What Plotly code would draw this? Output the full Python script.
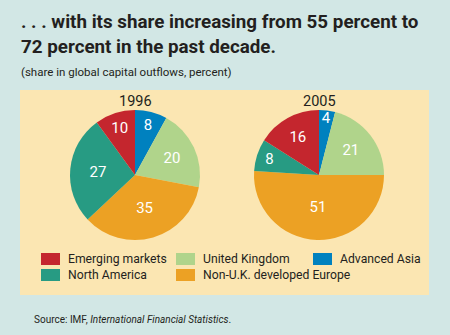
import plotly.graph_objects as go

W, H = 450, 335

categories = ["Advanced Asia", "United Kingdom", "Non-U.K. developed Europe", "North America", "Emerging markets"]
colors = ["#0081bf", "#b0d48b", "#eca124", "#279b83", "#c4262e"]
values_1996 = [8, 20, 35, 27, 10]
values_2005 = [4, 21, 51, 8, 16]
years = ["1996", "2005"]

legend_order = ["Emerging markets", "United Kingdom", "Advanced Asia", "North America", "Non-U.K. developed Europe"]

FONT = "Roboto, Liberation Sans, sans-serif"
INK = "#231f20"

def px(x):
    return x / W

def py(y):
    return 1 - y / H

fig = go.Figure()
anns = []

pie_centers = [(135, 175), (319, 175)]
R = 65
for (cx, cy), vals, yr in zip(pie_centers, [values_1996, values_2005], years):
    fig.add_trace(go.Pie(
        values=vals, labels=categories, text=[str(v) for v in vals],
        textinfo="text", textposition="inside", insidetextorientation="horizontal",
        sort=False, direction="clockwise", rotation=0,
        marker=dict(colors=colors, line=dict(width=0)),
        textfont=dict(family=FONT, size=15, color="white"),
        domain=dict(x=[px(cx - R), px(cx + R)], y=[py(cy + R), py(cy - R)]),
        showlegend=False, hoverinfo="label+value",
    ))
    anns.append(dict(x=px(cx), y=py(101), xref="paper", yref="paper", text=yr,
                     showarrow=False, xanchor="center", yanchor="middle",
                     font=dict(family=FONT, size=14.5, color=INK)))

shapes = [dict(type="rect", xref="paper", yref="paper", x0=px(20), x1=px(429), y0=py(295), y1=py(90),
               fillcolor="#fbe6b2", line=dict(width=0), layer="below")]

col_x = [41, 176, 313]
row_y = [259, 275]
cmap = dict(zip(categories, colors))
for i, name in enumerate(legend_order):
    r, c = divmod(i, 3)
    x0, yc = col_x[c], row_y[r]
    shapes.append(dict(type="rect", xref="paper", yref="paper", x0=px(x0), x1=px(x0 + 19),
                       y0=py(yc + 6), y1=py(yc - 6), fillcolor=cmap[name], line=dict(width=0)))
    anns.append(dict(x=px(x0 + 25), y=py(yc), xref="paper", yref="paper", text=name, showarrow=False,
                     xanchor="left", yanchor="middle", font=dict(family=FONT, size=12.2, color=INK)))

anns.append(dict(x=px(19), y=py(22), xref="paper", yref="paper",
                 text="<b>. . . with its share increasing from 55 percent to</b>", showarrow=False,
                 xanchor="left", yanchor="middle", font=dict(family=FONT, size=18.8, color=INK)))
anns.append(dict(x=px(19), y=py(47), xref="paper", yref="paper",
                 text="<b>72 percent in the past decade.</b>", showarrow=False,
                 xanchor="left", yanchor="middle", font=dict(family=FONT, size=18.8, color=INK)))
anns.append(dict(x=px(19), y=py(72), xref="paper", yref="paper",
                 text="(share in global capital outflows, percent)", showarrow=False,
                 xanchor="left", yanchor="middle", font=dict(family=FONT, size=11.5, color=INK)))
anns.append(dict(x=px(32), y=py(319), xref="paper", yref="paper",
                 text="Source: IMF, <i>International Financial Statistics</i>.", showarrow=False,
                 xanchor="left", yanchor="middle", font=dict(family=FONT, size=10, color=INK)))

fig.update_layout(width=W, height=H, margin=dict(l=0, r=0, t=0, b=0),
                  paper_bgcolor="#d2e7e5", plot_bgcolor="#d2e7e5",
                  shapes=shapes, annotations=anns,
                  uniformtext=dict(mode="show", minsize=15))

fig.write_html("out.html", config={"displayModeBar": False})
